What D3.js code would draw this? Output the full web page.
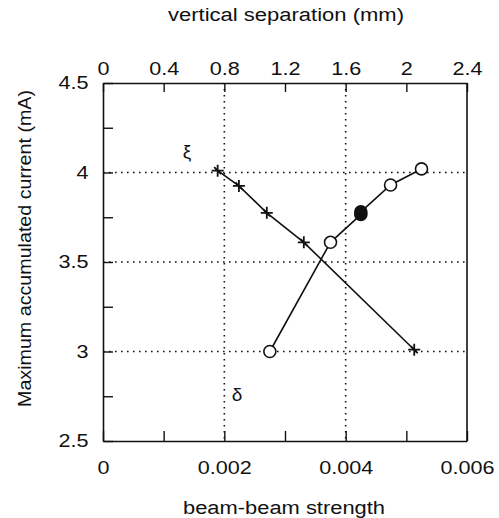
<!DOCTYPE html>
<html>
<head>
<meta charset="utf-8">
<script src="https://cdn.jsdelivr.net/npm/d3@7"></script>
<style>
  body { margin: 0; background: #fff; }
  text { font-family: "Liberation Sans", Arial, sans-serif; fill: #111; }
</style>
</head>
<body>
<svg id="chart" width="499" height="518"></svg>
<script>
// xi series (crosses)
var xiStrength = [0.00189, 0.00224, 0.0027, 0.00331, 0.00513];
var xiCurrent = [4.01, 3.925, 3.775, 3.61, 3.01];
// delta series (circles)
var deltaStrength = [0.00275, 0.00375, 0.00425, 0.00425, 0.00474, 0.00525];
var deltaCurrent = [3.0, 3.61, 3.765, 3.78, 3.93, 4.02];

var bottomTicks = [0, 0.001, 0.002, 0.003, 0.004, 0.005, 0.006];
var topTicks = [0, 0.4, 0.8, 1.2, 1.6, 2, 2.4];
var leftTicks = [2.5, 2.75, 3, 3.25, 3.5, 3.75, 4, 4.25, 4.5];
var gridX = [0.002, 0.004];
var gridY = [3, 3.5, 4];

var svg = d3.select("#chart");
var pLeft = 103, pRight = 467, pTop = 83, pBottom = 441;

var x = d3.scaleLinear().domain([0, 0.006]).range([pLeft, pRight]);
var xTop = d3.scaleLinear().domain([0, 2.4]).range([pLeft, pRight]);
var y = d3.scaleLinear().domain([2.5, 4.5]).range([pBottom, pTop]);

// dotted grid
svg.selectAll("line.gx").data(gridX).enter().append("line")
    .attr("class", "gx")
    .attr("x1", d => x(d)).attr("x2", d => x(d))
    .attr("y1", pTop).attr("y2", pBottom)
    .attr("stroke", "#111").attr("stroke-width", 1.6)
    .attr("stroke-dasharray", "1.6,4.4");
svg.selectAll("line.gy").data(gridY).enter().append("line")
    .attr("class", "gy")
    .attr("x1", pLeft).attr("x2", pRight)
    .attr("y1", d => y(d)).attr("y2", d => y(d))
    .attr("stroke", "#111").attr("stroke-width", 1.6)
    .attr("stroke-dasharray", "1.6,4.4");

function fmt(d) {
    return d3.format("~g")(d);
}

var bottomAxis = svg.append("g")
    .attr("transform", `translate(0,${pBottom})`)
    .call(d3.axisBottom(x).tickValues(bottomTicks).tickSizeInner(-10).tickSizeOuter(0).tickPadding(20)
        .tickFormat(d => Math.round(d * 1000) % 2 == 0 ? fmt(d) : ""));

var topAxis = svg.append("g")
    .attr("transform", `translate(0,${pTop})`)
    .call(d3.axisTop(xTop).tickValues(topTicks).tickSizeInner(-9).tickSizeOuter(0).tickPadding(8)
        .tickFormat(fmt));

var leftAxis = svg.append("g")
    .attr("transform", `translate(${pLeft},0)`)
    .call(d3.axisLeft(y).tickValues(leftTicks).tickSizeInner(-10).tickSizeOuter(0).tickPadding(12)
        .tickFormat(d => (d * 4) % 2 == 0 ? fmt(d) : ""));

// right frame line
svg.append("line")
    .attr("x1", pRight).attr("x2", pRight).attr("y1", pTop).attr("y2", pBottom)
    .attr("stroke", "#111").attr("stroke-width", 1.6);

[bottomAxis, topAxis, leftAxis].forEach(function(g) {
    g.select(".domain").attr("stroke", "#111").attr("stroke-width", 1.6);
    g.selectAll(".tick line").attr("stroke", "#111").attr("stroke-width", 1.4);
    g.selectAll(".tick text")
        .attr("font-size", 18)
        .attr("fill", "#111")
        .style("font-family", "'Liberation Sans', Arial, sans-serif");
});
// the scanned labels are a bit wide
bottomAxis.selectAll(".tick text").attr("transform", "scale(1.2,1)");
topAxis.selectAll(".tick text").attr("transform", "scale(1.2,1)");
leftAxis.selectAll(".tick text").attr("transform", "scale(1.2,1)");

var xiPts = xiStrength.map((s, i) => [s, xiCurrent[i]]);
var deltaPts = deltaStrength.map((s, i) => [s, deltaCurrent[i]]);

var line = d3.line().x(d => x(d[0])).y(d => y(d[1]));

svg.append("path").datum(xiPts)
    .attr("d", line).attr("fill", "none")
    .attr("stroke", "#111").attr("stroke-width", 1.6);
svg.append("path").datum(deltaPts)
    .attr("d", line).attr("fill", "none")
    .attr("stroke", "#111").attr("stroke-width", 1.6);

// crosses
svg.selectAll("path.xi").data(xiPts).enter().append("path")
    .attr("class", "xi")
    .attr("transform", d => `translate(${x(d[0])},${y(d[1])})`)
    .attr("d", "M-6,0H6M0,-6V6M-3.5,-3.5L3.5,3.5")
    .attr("stroke", "#111").attr("stroke-width", 1.8).attr("fill", "none");

// circles; points sitting on top of each other come out dark in the scan
svg.selectAll("circle.delta").data(deltaPts).enter().append("circle")
    .attr("class", "delta")
    .attr("cx", d => x(d[0])).attr("cy", d => y(d[1]))
    .attr("r", 6)
    .attr("fill", (d, i) => deltaPts.some((p, j) => j != i && p[0] == d[0] && Math.abs(p[1] - d[1]) < 0.05) ? "#111" : "#fff")
    .attr("stroke", "#111").attr("stroke-width", 1.6);

// series labels
svg.append("text").attr("x", 187).attr("y", 158)
    .attr("text-anchor", "middle").attr("font-size", 19).text("ξ");
svg.append("text").attr("x", 237).attr("y", 401)
    .attr("text-anchor", "middle").attr("font-size", 19).text("δ");

// axis titles
svg.append("text")
    .attr("x", 168).attr("y", 21)
    .attr("font-size", 18)
    .attr("textLength", 236).attr("lengthAdjust", "spacingAndGlyphs")
    .text("vertical separation (mm)");

svg.append("text")
    .attr("x", 183).attr("y", 514)
    .attr("font-size", 18)
    .attr("textLength", 202).attr("lengthAdjust", "spacingAndGlyphs")
    .text("beam-beam strength");

svg.append("text")
    .attr("transform", "translate(31,407) rotate(-90)")
    .attr("font-size", 18)
    .attr("textLength", 317).attr("lengthAdjust", "spacingAndGlyphs")
    .text("Maximum accumulated current (mA)");
</script>
</body>
</html>
